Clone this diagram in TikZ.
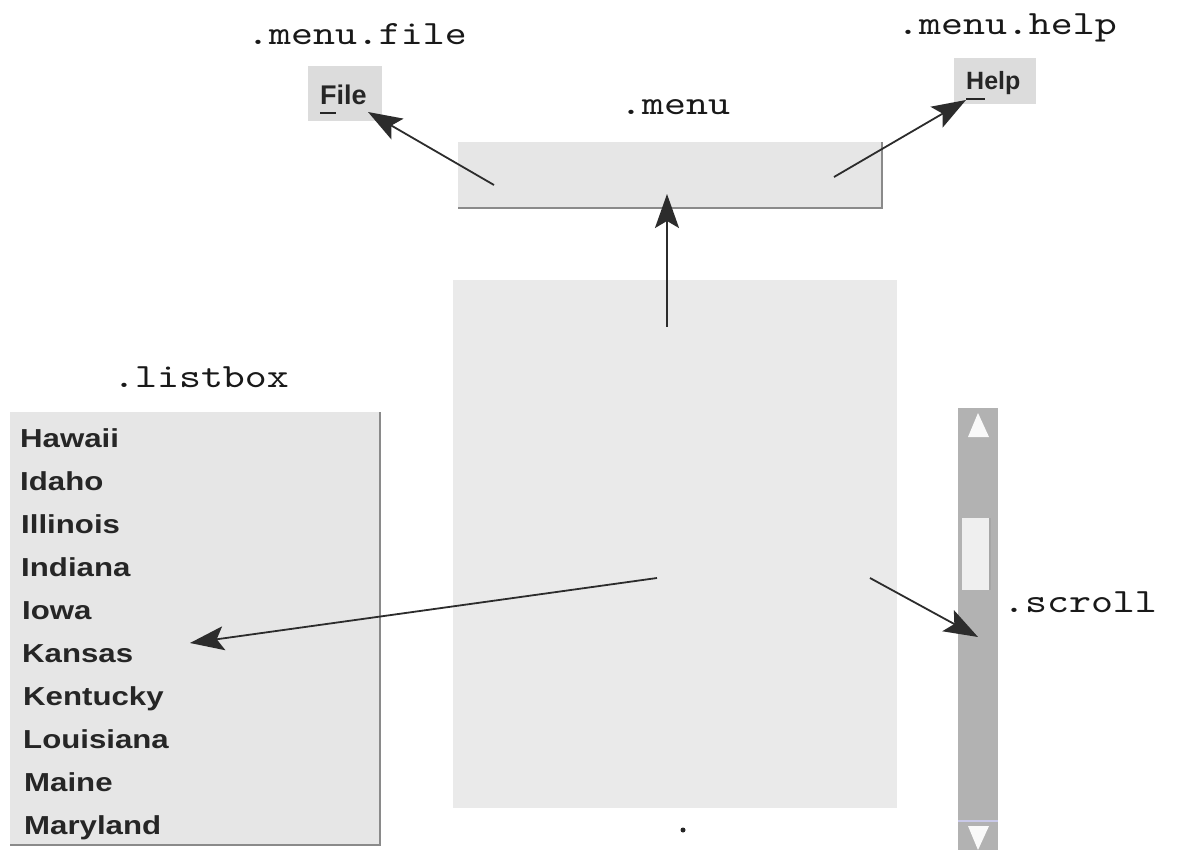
\documentclass[tikz,border=0pt]{standalone}
\usepackage{fontspec}
\newfontfamily\mono{lmmono10-regular}[Extension=.otf,FakeStretch=1.23]
\newfontfamily\ui{Liberation Sans}
\newfontfamily\uiwide{Liberation Sans}[FakeStretch=1.2]
\usetikzlibrary{arrows.meta}
\definecolor{panelgray}{HTML}{E6E6E6}
\definecolor{boxgray}{HTML}{DCDCDC}
\definecolor{bordergray}{HTML}{8A8A8A}
\definecolor{scrollgray}{HTML}{B2B2B2}
\definecolor{thumbgray}{HTML}{EFEFEF}
\definecolor{arrowgray}{HTML}{2C2C2C}
\definecolor{itemgray}{HTML}{262626}
\begin{document}
\begin{tikzpicture}[x=1pt,y=-1pt,
  panel/.style={fill=panelgray,draw=none,inner sep=0,outer sep=0,anchor=north west},
  lbl/.style={font=\mono\fontsize{34}{36}\selectfont,anchor=base west,inner sep=0,text=black!90},
  item/.style={font=\uiwide\bfseries\fontsize{26}{28}\selectfont,anchor=base west,inner sep=0,text=itemgray},
  btn/.style={font=\ui\bfseries\fontsize{27}{29}\selectfont,anchor=base west,inner sep=0,text=itemgray},
  edge/.style={draw=bordergray,line width=2pt},
  ptr/.style={draw=arrowgray,line width=1.8pt,-{Stealth[length=34pt,width=24pt,inset=7pt]}}]
\useasboundingbox[fill=white] (0,0) rectangle (1189,850);

% labels
\node[lbl] (lfile) at (247,45) {.menu.file};
\node[lbl] (lhelp) at (897,35) {.menu.help};
\node[lbl] (lmenu) at (620,115) {.menu};
\node[lbl] (llist) at (113,388) {.listbox};
\node[lbl] (lscroll) at (1003,612) {.scroll};

% File and Help buttons
\node[panel,fill=boxgray,minimum width=74pt,minimum height=55pt] (filebox) at (308,66) {};
\node[btn] (filetxt) at (320,105) {File};
\draw[itemgray,line width=2.5pt] (320,113) -- (336,113);
\node[panel,fill=boxgray,minimum width=82pt,minimum height=46pt] (helpbox) at (954,58) {};
\node[btn,font=\ui\bfseries\fontsize{25}{27}\selectfont] (helptxt) at (966,90) {Help};
\draw[itemgray,line width=2.5pt] (966,99) -- (985,99);

% menu bar
\node[panel,minimum width=424pt,minimum height=66pt] (menu) at (458,142) {};
\draw[edge] (menu.north east) -- (menu.south east) -- (menu.south west);

% main frame
\node[panel,fill=panelgray!85,minimum width=444pt,minimum height=528pt] (frame) at (453,280) {};

% listbox
\node[panel,minimum width=370pt,minimum height=433pt] (lb) at (10,412) {};
\draw[edge] (lb.north east) -- (lb.south east) -- (lb.south west);
\node[item] (i1) at (20,447) {Hawaii};
\node[item] (i2) at (20,490) {Idaho};
\node[item] (i3) at (21,533) {Illinois};
\node[item] (i4) at (21,576) {Indiana};
\node[item] (i5) at (22,619) {Iowa};
\node[item] (i6) at (22,662) {Kansas};
\node[item] (i7) at (23,705) {Kentucky};
\node[item] (i8) at (23,748) {Louisiana};
\node[item] (i9) at (24,791) {Maine};
\node[item] (i10) at (24,834) {Maryland};

% scrollbar
\node[panel,fill=scrollgray,minimum width=40pt,minimum height=442pt] (sb) at (958,408) {};
\node[panel,fill=thumbgray,minimum width=28pt,minimum height=72pt] (thumb) at (962,518) {};
\draw[draw=gray!70,line width=2pt] (thumb.north east) -- (thumb.south east);
\fill[white!95!gray] (978,413) -- (968,437) -- (989,437) -- cycle;
\fill[white!95!gray] (968,826) -- (989,826) -- (978,850) -- cycle;
\draw[draw=gray!60!blue!30,line width=1.5pt] (958,821) -- (998,821);

% pointer ends
\coordinate (upS) at (667,327);
\coordinate (upT) at (667,194);
\coordinate (fileS) at (494,185);
\coordinate (fileT) at (368,112);
\coordinate (helpS) at (834,177);
\coordinate (helpT) at (966,100);
\coordinate (lbS) at (657,578);
\coordinate (lbT) at (190,643);
\coordinate (sbS) at (870,578);
\coordinate (sbT) at (978,637);

\draw[ptr] (upS) -- (upT);
\draw[ptr] (fileS) -- (fileT);
\draw[ptr] (helpS) -- (helpT);
\draw[ptr] (lbS) -- (lbT);
\draw[ptr] (sbS) -- (sbT);

% stray dot
\node[circle,fill=black!85,inner sep=0,minimum size=5pt] (dot) at (683,830) {};
\end{tikzpicture}
\end{document}
